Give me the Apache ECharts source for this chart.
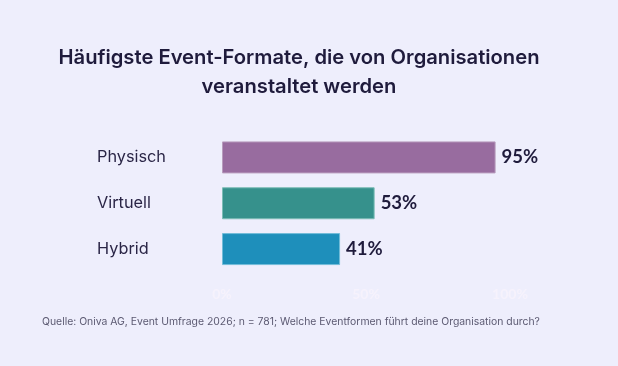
<!DOCTYPE html>
<html><head><meta charset="utf-8">
<script src="https://cdn.jsdelivr.net/npm/echarts@6/dist/echarts.min.js"></script>
<style>html,body{margin:0;padding:0;background:#eeeefc;}#c{width:618px;height:366px;}</style>
</head><body><div id="c"></div>
<script>
const categories = ['Physisch', 'Virtuell', 'Hybrid'];
const values = [95, 53, 41];
const barColors = ['#986c9f', '#36918c', '#1e8fbb'];
const borderColors = ['#b89cbd', '#7cbcb6', '#72bcd8'];
const tickLabels = ['0%', '50%', '100%'];

const chart = echarts.init(document.getElementById('c'));
chart.setOption({
  backgroundColor: '#eeeefc',
  animation: false,
  graphic: [{
    type: 'text', x: 299, y: 72.5,
    style: { text: 'Häufigste Event-Formate, die von Organisationen\nveranstaltet werden',
      align: 'center', verticalAlign: 'middle', lineHeight: 29,
      font: '600 20.2px Inter', fill: '#1f1b3c' }
  }, {
    type: 'text', left: 42, top: 317,
    style: { text: 'Quelle: Oniva AG, Event Umfrage 2026; n = 781; Welche Eventformen führt deine Organisation durch?',
      font: '10.4px Inter', fill: '#5c5a72' }
  }],
  grid: { left: 222, right: 108, top: 134.5, bottom: 94, containLabel: false },
  xAxis: {
    type: 'value', min: 0, max: 100, interval: 50,
    axisLine: { show: false }, axisTick: { show: false }, splitLine: { show: false },
    axisLabel: { margin: 15, color: '#f6f2fc', fontFamily: 'Lato', fontWeight: 700, fontSize: 14,
      formatter: v => tickLabels[v / 50] }
  },
  yAxis: {
    type: 'category', data: categories, inverse: true,
    axisLine: { show: false }, axisTick: { show: false },
    axisLabel: { align: 'left', margin: 125, color: '#2a2546', fontFamily: 'Inter', fontSize: 16.3 }
  },
  series: [{
    type: 'bar', barWidth: 32,
    data: values.map((v, i) => ({ value: v, itemStyle: { color: barColors[i], borderColor: borderColors[i], borderWidth: 1 } })),
    label: { show: true, position: 'right', distance: 6, formatter: '{c}%',
      fontFamily: 'Lato', fontWeight: 700, fontSize: 18.5, color: '#1f1b3c' }
  }]
});
</script></body></html>
